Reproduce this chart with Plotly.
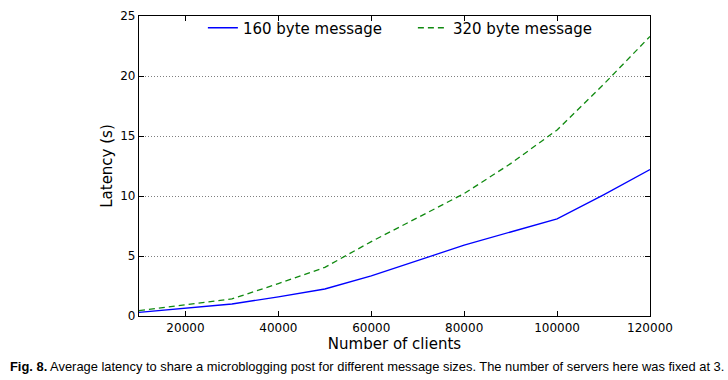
import plotly.graph_objects as go

clients = [10000, 20000, 30000, 40000, 50000, 60000, 70000, 80000, 90000, 100000, 110000, 120000]
lat_160 = [0.3, 0.63, 1.0, 1.6, 2.25, 3.35, 4.6, 5.9, 7.0, 8.1, 10.1, 12.2]
lat_320 = [0.45, 0.95, 1.42, 2.7, 4.05, 6.2, 8.2, 10.2, 12.7, 15.5, 19.3, 23.3]
x_ticks = [20000, 40000, 60000, 80000, 100000, 120000]
y_ticks = [0, 5, 10, 15, 20, 25]

fig = go.Figure()
fig.add_trace(go.Scatter(x=clients, y=lat_160, mode="lines", name="160 byte message",
                         line=dict(color="#0000ff", width=1.3)))
fig.add_trace(go.Scatter(x=clients, y=lat_320, mode="lines", name="320 byte message",
                         line=dict(color="#108a10", width=1.3, dash="6px,4px")))

axis_common = dict(showline=True, linecolor="black", linewidth=1.2, mirror="ticks",
                   ticks="inside", ticklen=5, tickcolor="black", zeroline=False,
                   tickfont=dict(family="DejaVu Sans", size=12, color="black"))

fig.update_xaxes(range=[10000, 120000], tickvals=x_ticks, ticktext=[str(v) for v in x_ticks],
                 showgrid=False,
                 title=dict(text="Number of clients", font=dict(family="DejaVu Sans", size=15, color="black"), standoff=4),
                 **axis_common)
fig.update_yaxes(range=[0, 25], tickvals=y_ticks, showgrid=True, gridcolor="#808080", griddash="1px,2px", gridwidth=1,
                 title=dict(text="Latency (s)", font=dict(family="DejaVu Sans", size=15, color="black"), standoff=3),
                 **axis_common)

fig.update_layout(
    width=728, height=380,
    margin=dict(l=139, r=78, t=9, b=64),
    paper_bgcolor="white", plot_bgcolor="white",
    legend=dict(orientation="h", x=0.125, y=1.015, xanchor="left", yanchor="top",
                font=dict(family="DejaVu Sans", size=15, color="black"),
                bgcolor="rgba(0,0,0,0)", entrywidth=165, entrywidthmode="pixels"),
    annotations=[dict(text="<b>Fig. 8.</b> Average latency to share a microblogging post for different message sizes. The number of servers here was fixed at 3.",
                      xref="paper", yref="paper", x=-0.256, y=-0.135, xanchor="left", yanchor="top",
                      showarrow=False, font=dict(family="Liberation Sans", size=12.9, color="black"))],
)

fig.write_html("out.html", config={"displayModeBar": False})
with open("out.html", "r", encoding="utf-8") as f:
    html = f.read()
html = html.replace("<body>", '<body style="margin:0;padding:0;overflow:hidden">', 1)
with open("out.html", "w", encoding="utf-8") as f:
    f.write(html)
